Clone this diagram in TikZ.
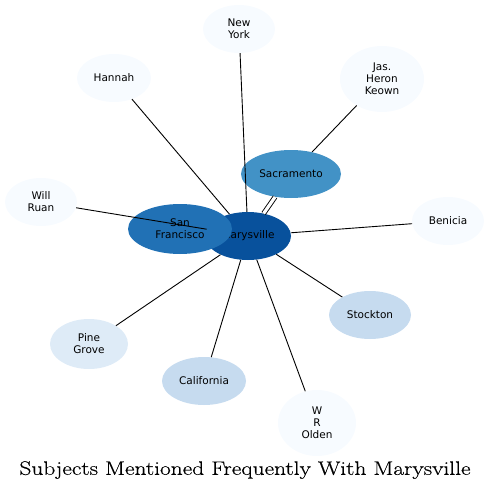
\documentclass[tikz,border=0pt]{standalone}
\usepackage{fontspec}
\newfontfamily\nodefont{DejaVu Sans}
\newfontfamily\titlefont{Latin Modern Roman}[FakeBold=0.4]
\usetikzlibrary{shapes.geometric}
\definecolor{b0}{HTML}{F7FBFF}
\definecolor{b1}{HTML}{DEEBF7}
\definecolor{b2}{HTML}{C6DBEF}
\definecolor{b5}{HTML}{4292C6}
\definecolor{b6}{HTML}{2171B5}
\definecolor{b7}{HTML}{08519C}
\tikzset{
  ent/.style={ellipse, draw=none, inner sep=0pt, align=center,
    font=\nodefont\fontsize{10.5}{12}\selectfont, text=black},
  edge/.style={draw=black, line width=0.9pt},
}
\begin{document}
\begin{tikzpicture}[x=1pt,y=-1pt]
\useasboundingbox (0,0) rectangle (491,492);
\node[ent, fill=b7, minimum width=86, minimum height=48] (mary) at (248,236) {Marysville};
\node[ent, fill=b6, minimum width=104, minimum height=50] (sf) at (180,229) {San\\Francisco};
\node[ent, fill=b5, minimum width=100, minimum height=48] (sac) at (291,174) {Sacramento};
\node[ent, fill=b0, minimum width=72, minimum height=48] (ny) at (239,29) {New\\York};
\node[ent, fill=b0, minimum width=74, minimum height=48] (hannah) at (114,78) {Hannah};
\node[ent, fill=b0, minimum width=84, minimum height=66] (jas) at (382,79) {Jas.\\Heron\\Keown};
\node[ent, fill=b0, minimum width=72, minimum height=48] (will) at (41,202) {Will\\Ruan};
\node[ent, fill=b0, minimum width=72, minimum height=48] (ben) at (448,221) {Benicia};
\node[ent, fill=b2, minimum width=82, minimum height=48] (stock) at (370,315) {Stockton};
\node[ent, fill=b1, minimum width=78, minimum height=50] (pine) at (89,344) {Pine\\Grove};
\node[ent, fill=b2, minimum width=84, minimum height=48] (cal) at (204,381) {California};
\node[ent, fill=b0, minimum width=78, minimum height=66] (olden) at (317,423) {W\\R\\Olden};
\draw[edge] (mary) -- (ny);
\draw[edge] (mary) -- (hannah);
\draw[edge] (sac) -- (jas);
\draw[edge] (will) -- (mary);
\draw[edge] (mary) -- (ben);
\draw[edge] (mary) -- (stock);
\draw[edge] (mary) -- (pine);
\draw[edge] (mary) -- (cal);
\draw[edge] (mary) -- (olden);
\draw[edge, double=white, double distance=3.2pt] (mary) -- (sac);
\node[inner sep=0pt] (title) at (245,470) {\scalebox{1.2}[1]{\titlefont\fontsize{19.5}{22}\selectfont Subjects Mentioned Frequently With Marysville}};
\end{tikzpicture}
\end{document}
